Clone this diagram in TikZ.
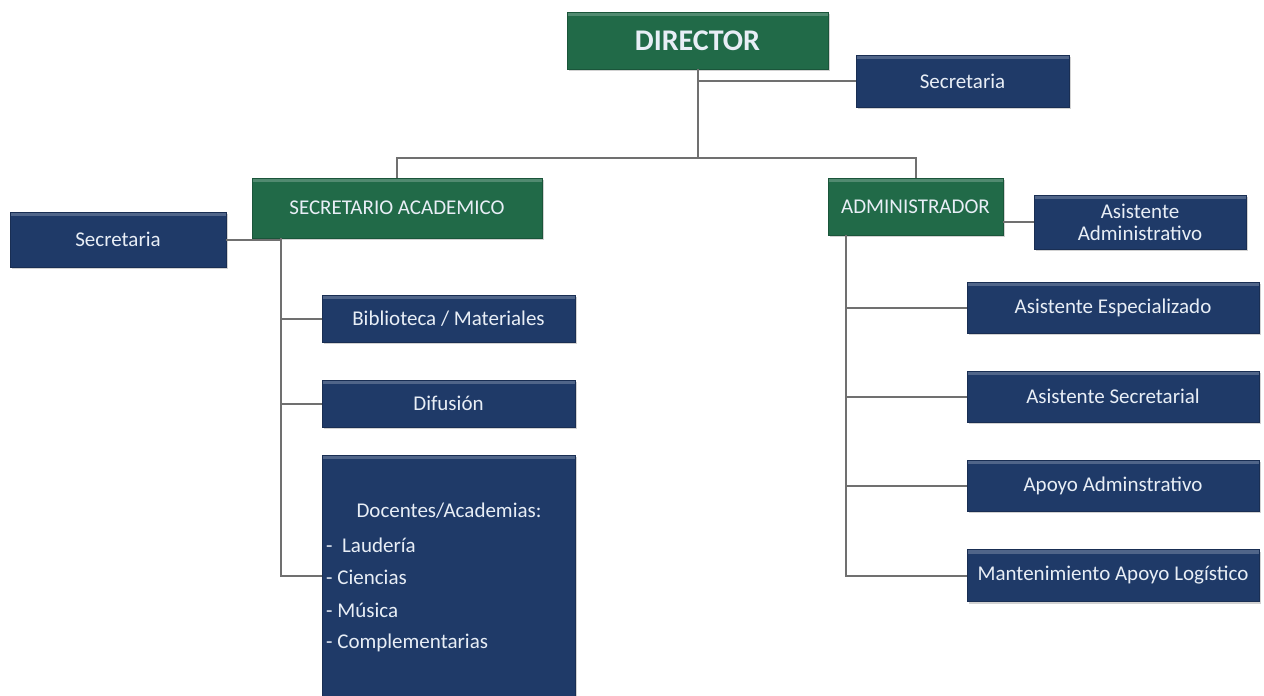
\documentclass[tikz,border=0pt]{standalone}
\usepackage{fontspec}
\setmainfont{Carlito}
\usetikzlibrary{shadows}
\definecolor{boxgreen}{HTML}{216A48}
\definecolor{boxblue}{HTML}{1F3A68}
\definecolor{txtc}{HTML}{E8EEF6}
\definecolor{linec}{HTML}{707070}
\tikzset{
  orgbox/.style={rectangle, inner sep=0pt, text=txtc, font=\fontsize{21}{24}\selectfont,
    align=center, drop shadow={shadow xshift=2pt, shadow yshift=-2pt, opacity=0.35},
    path picture={\fill[white,opacity=0.22] (path picture bounding box.north west) rectangle ([yshift=-4pt]path picture bounding box.north east);}},
  greenbox/.style={orgbox, fill=boxgreen, draw=boxgreen!80!black, line width=0.6pt},
  bluebox/.style={orgbox, fill=boxblue, draw=boxblue!80!black, line width=0.6pt},
  listtext/.style={text=txtc, font=\fontsize{21}{24}\selectfont, inner sep=0pt},
  conn/.style={draw=linec, line width=2pt}
}
\begin{document}
\begin{tikzpicture}[x=1pt,y=-1pt]
\useasboundingbox[fill=white] (0,0) rectangle (1264,696);
% connectors (drawn first, behind boxes)
\coordinate (hub) at (697.5,158);
\coordinate (saspine) at (281,238);
\coordinate (admspine) at (846,235);
% boxes
\node[greenbox, minimum width=261pt, minimum height=57pt, font=\fontsize{30}{34}\selectfont\bfseries] (dir) at (697.5,40.5) {DIRECTOR};
\node[bluebox, minimum width=213pt, minimum height=52pt] (sec1) at (962.5,81) {Secretaria};
\node[greenbox, minimum width=290pt, minimum height=60pt] (sa) at (397,208) {SECRETARIO ACADEMICO};
\node[bluebox, minimum width=216pt, minimum height=55pt] (sec2) at (118,239.5) {Secretaria};
\node[greenbox, minimum width=175pt, minimum height=57pt] (adm) at (915.5,206.5) {ADMINISTRADOR};
\node[bluebox, minimum width=212pt, minimum height=54pt, font=\fontsize{21}{22}\selectfont] (asa) at (1140,222) {Asistente\\Administrativo};
\node[bluebox, minimum width=253pt, minimum height=47pt] (bib) at (448.5,318.5) {Biblioteca / Materiales};
\node[bluebox, minimum width=253pt, minimum height=47pt] (dif) at (448.5,403.5) {Difusión};
\node[bluebox, minimum width=253pt, minimum height=241pt] (doc) at (448.5,575.5) {};
\node[listtext, anchor=center] (doct) at (449,511) {Docentes/Academias:};
\node[listtext, anchor=west] (d1) at (326,545) {-\ \ Laudería};
\node[listtext, anchor=west] (d2) at (326,577) {- Ciencias};
\node[listtext, anchor=west] (d3) at (326,610) {- Música};
\node[listtext, anchor=west] (d4) at (326,643) {- Complementarias};
\node[bluebox, minimum width=292pt, minimum height=51pt] (ase) at (1113,307.5) {Asistente Especializado};
\node[bluebox, minimum width=292pt, minimum height=51pt] (ass) at (1113,396.5) {Asistente Secretarial};
\node[bluebox, minimum width=292pt, minimum height=51pt] (apo) at (1113,485.5) {Apoyo Adminstrativo};
\node[bluebox, minimum width=292pt, minimum height=52pt] (man) at (1113,575.5) {Mantenimiento Apoyo Logístico};
% connectors
\draw[conn] (dir.south) -- (hub);
\draw[conn] (sec1.west) -- (sec1.west -| dir.south);
\draw[conn] (sa.north) |- (hub) -| (adm.north);
\draw[conn] (saspine) |- (doc.west);
\draw[conn] (sec2.east) -- (sec2.east -| saspine);
\draw[conn] (bib.west) -- (bib.west -| saspine);
\draw[conn] (dif.west) -- (dif.west -| saspine);
\draw[conn] (admspine) |- (man.west);
\draw[conn] (asa.west) -- (asa.west -| adm.east);
\draw[conn] (ase.west) -- (ase.west -| admspine);
\draw[conn] (ass.west) -- (ass.west -| admspine);
\draw[conn] (apo.west) -- (apo.west -| admspine);
\end{tikzpicture}
\end{document}
